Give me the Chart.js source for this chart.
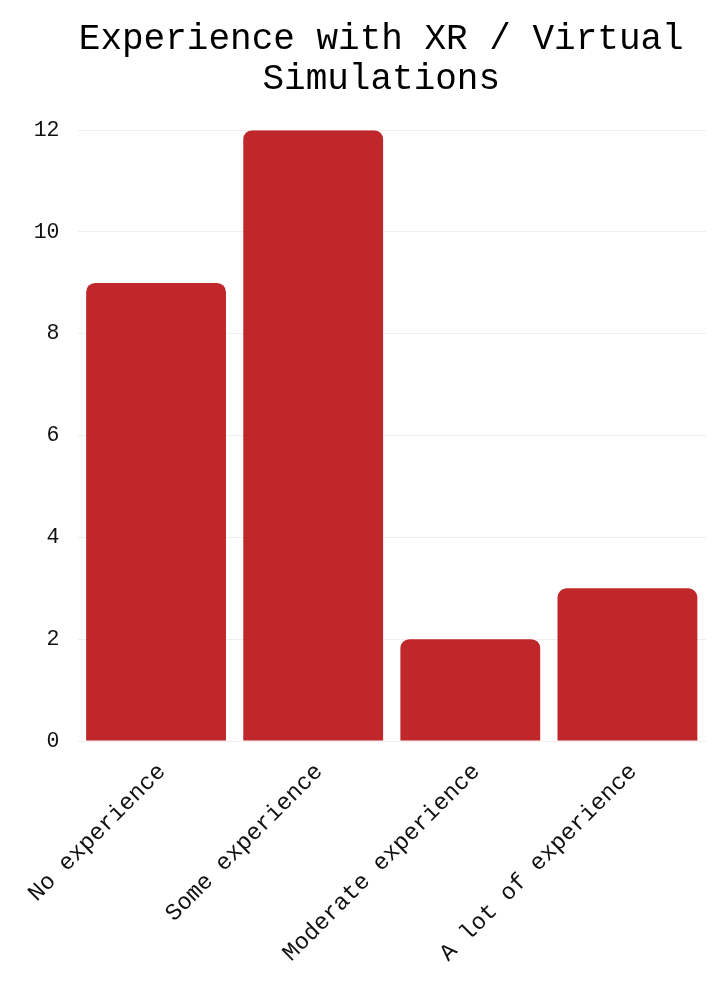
<!DOCTYPE html>
<html>
<head>
<meta charset="utf-8">
<script src="https://cdn.jsdelivr.net/npm/chart.js@4/dist/chart.umd.min.js"></script>
<style>
  html, body { margin: 0; padding: 0; background: #fff; }
  #wrap { width: 722px; height: 990px; }
</style>
</head>
<body>
<div id="wrap"><canvas id="graficoXR"></canvas></div>
<script>
const categorias = ['No experience', 'Some experience', 'Moderate experience', 'A lot of experience'];
const respuestas = [9, 12, 2, 3];
const ticksY = [0, 2, 4, 6, 8, 10, 12];

const fuente = "'Liberation Mono', 'Courier New', monospace";

// el título del original está centrado un poco a la derecha
const moverTitulo = {
  id: 'moverTitulo',
  afterLayout(chart) {
    if (chart.titleBlock) chart.titleBlock.left += 23;
  }
};

new Chart(document.getElementById('graficoXR'), {
  type: 'bar',
  data: {
    labels: categorias,
    datasets: [{
      data: respuestas,
      backgroundColor: '#c0272a',
      borderRadius: { topLeft: 9, topRight: 9 },
      borderSkipped: 'bottom',
      barPercentage: 0.89,
      categoryPercentage: 1
    }]
  },
  plugins: [moverTitulo],
  options: {
    responsive: true,
    maintainAspectRatio: false,
    animation: false,
    layout: { padding: { left: 33.5, right: 16, top: 20, bottom: 0 } },
    plugins: {
      legend: { display: false },
      tooltip: { enabled: false },
      title: {
        display: true,
        text: ['Experience with XR / Virtual', 'Simulations'],
        color: '#000',
        font: { family: fuente, size: 36, weight: 'normal', lineHeight: 1.1 },
        padding: { top: 0, bottom: 31 }
      }
    },
    scales: {
      x: {
        grid: { display: false },
        border: { display: false },
        afterFit: s => { s.height = 249; },
        ticks: {
          color: '#111',
          font: { family: fuente, size: 23.5 },
          maxRotation: 45,
          minRotation: 45,
          labelOffset: 6,
          padding: 9
        }
      },
      y: {
        min: 0,
        max: 12,
        afterBuildTicks: axis => { axis.ticks = ticksY.map(v => ({ value: v })); },
        afterFit: s => { s.width = 44; },
        grid: { color: '#f5eded', drawTicks: false },
        border: { display: false },
        ticks: {
          color: '#111',
          font: { family: fuente, size: 21.5 },
          padding: 18
        }
      }
    }
  }
});
</script>
</body>
</html>
